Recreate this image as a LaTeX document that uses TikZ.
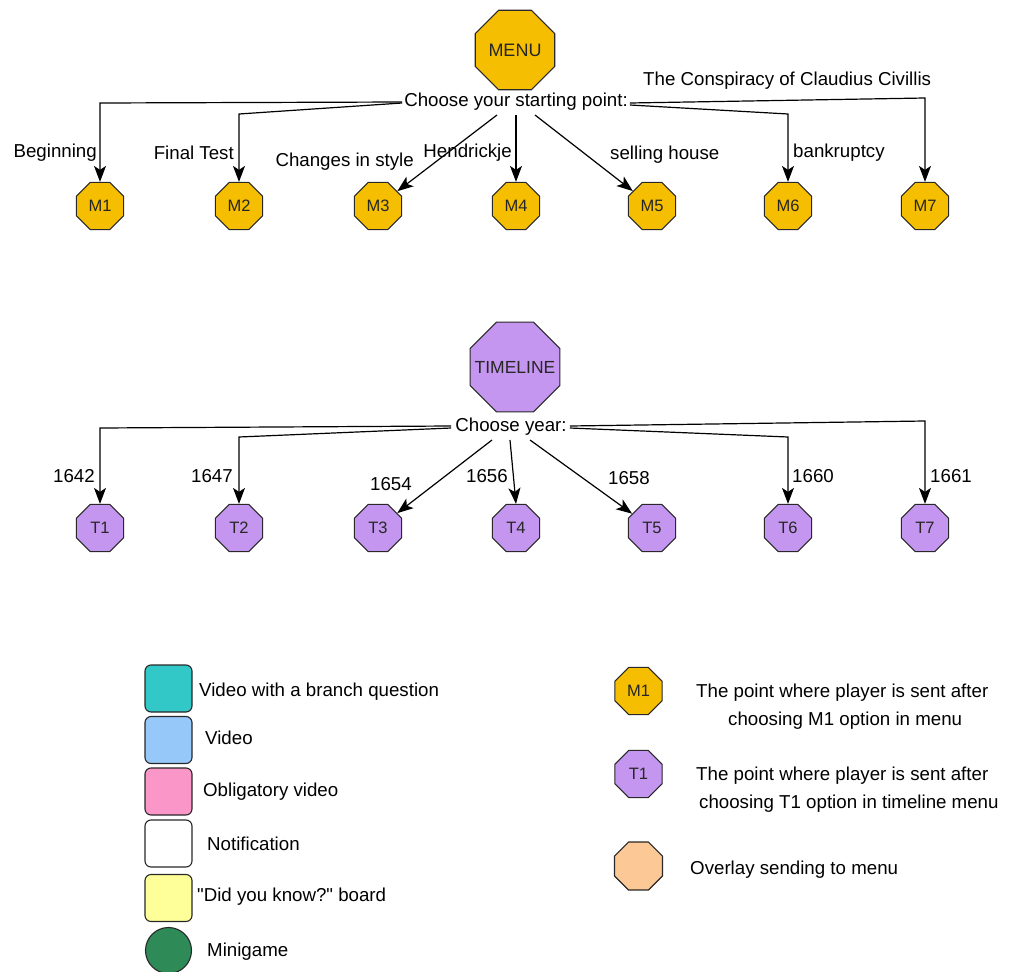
\documentclass[tikz,border=0pt]{standalone}
\usepackage{fontspec}
\setmainfont{Liberation Sans}[Ligatures=TeXOff]
\usetikzlibrary{shapes.geometric,arrows.meta,calc}
\definecolor{gold}{RGB}{245,190,0}
\definecolor{lav}{RGB}{196,150,240}
\definecolor{peach}{RGB}{252,200,150}
\definecolor{tealb}{RGB}{50,200,200}
\definecolor{skyb}{RGB}{150,200,250}
\definecolor{pinkb}{RGB}{250,150,200}
\definecolor{lemon}{RGB}{255,255,153}
\definecolor{mgreen}{RGB}{46,139,87}
\definecolor{edgec}{RGB}{40,40,40}
\begin{document}
\begin{tikzpicture}[x=1pt,y=-1pt,
 txt/.style={font=\fontsize{18.7}{22}\selectfont, inner sep=0pt, text=black},
 oct/.style={regular polygon, regular polygon sides=8, draw=edgec, line width=1.1pt, inner sep=0pt, minimum size=51pt},
 olab/.style={label={[font=\fontsize{16.5}{18}\selectfont, inner sep=0pt, text=black!85]center:#1}},
 moct/.style={oct, fill=gold},
 toct/.style={oct, fill=lav},
 arr/.style={draw=black, line width=1.2pt, -{Stealth[length=16pt,width=12pt,inset=4pt]}},
 lgbox/.style={draw=edgec, line width=1.1pt, rounded corners=6pt, minimum width=47pt, minimum height=47pt, inner sep=0pt},
]
\useasboundingbox (0,0) rectangle (1013,972);

% ---------- MENU ----------
\node[moct, minimum size=86pt, label={[font=\fontsize{18}{20}\selectfont, inner sep=0pt, text=black!85]center:MENU}] (menu) at (515,50) {};
\node[txt] (cm) at (516,102) {Choose your starting point:};

\node[moct, olab=M1] (m1) at (100,206) {};
\node[moct, olab=M2] (m2) at (239,206) {};
\node[moct, olab=M3] (m3) at (378,206) {};
\node[moct, olab=M4] (m4) at (516,206) {};
\node[moct, olab=M5] (m5) at (652,206) {};
\node[moct, olab=M6] (m6) at (788,206) {};
\node[moct, olab=M7] (m7) at (925,206) {};

\draw[arr] ($(cm.west)+(-2,0)$) -- (100,103) -- (m1.north);
\draw[arr] ($(cm.west)+(-2,1)$) -- (239,114) -- (m2.north);
\draw[arr] ($(cm.center)+(-19,13)$) -- (m3);
\draw[arr] ($(cm.center)+(0,13)$) -- (m4.north);
\draw[arr] ($(cm.center)+(19,13)$) -- (m5);
\draw[arr] ($(cm.east)+(2,3)$) -- (788,114) -- (m6.north);
\draw[arr] ($(cm.east)+(2,1)$) -- (925,98) -- (m7.north);

\node[txt, anchor=east] (l1) at (97,153) {Beginning};
\node[txt, anchor=east] (l2) at (234,153) {Final Test};
\node[txt, anchor=east] (l3) at (414,162) {Changes in style};
\node[txt, anchor=east] (l4) at (512,153) {Hendrickje};
\node[txt, anchor=west] (l5) at (610,155) {selling house};
\node[txt, anchor=west] (l6) at (793,153) {bankruptcy};
\node[txt, anchor=west] (l7) at (643,81) {The Conspiracy of Claudius Civillis};

% ---------- TIMELINE ----------
\node[toct, minimum size=97pt, label={[font=\fontsize{17.5}{20}\selectfont, inner sep=0pt, text=black!85]center:TIMELINE}] (tl) at (515,367) {};
\node[txt] (cy) at (511,427) {Choose year:};

\node[toct, olab=T1] (t1) at (100,528) {};
\node[toct, olab=T2] (t2) at (239,528) {};
\node[toct, olab=T3] (t3) at (378,528) {};
\node[toct, olab=T4] (t4) at (516,528) {};
\node[toct, olab=T5] (t5) at (652,528) {};
\node[toct, olab=T6] (t6) at (788,528) {};
\node[toct, olab=T7] (t7) at (925,528) {};

\draw[arr] ($(cy.west)+(-4,-1)$) -- (100,428) -- (t1.north);
\draw[arr] ($(cy.west)+(-4,1)$) -- (239,437) -- (t2.north);
\draw[arr] ($(cy.center)+(-19,13)$) -- (t3);
\draw[arr] ($(cy.center)+(-1,13)$) -- (t4.north);
\draw[arr] ($(cy.center)+(19,13)$) -- (t5);
\draw[arr] ($(cy.east)+(3,1)$) -- (788,437) -- (t6.north);
\draw[arr] ($(cy.east)+(3,-1)$) -- (925,421) -- (t7.north);

\node[txt, anchor=east] (y1) at (95,476) {1642};
\node[txt, anchor=east] (y2) at (233,476) {1647};
\node[txt, anchor=east] (y3) at (412,484) {1654};
\node[txt, anchor=east] (y4) at (508,476) {1656};
\node[txt, anchor=west] (y5) at (608,478) {1658};
\node[txt, anchor=west] (y6) at (792,476) {1660};
\node[txt, anchor=west] (y7) at (930,476) {1661};

% ---------- Legend left ----------
\node[lgbox, fill=tealb] (b1) at (168.5,688.5) {};
\node[lgbox, fill=skyb] (b2) at (168.5,740) {};
\node[lgbox, fill=pinkb] (b3) at (168.5,791.5) {};
\node[lgbox, fill=white] (b4) at (168.5,843.5) {};
\node[lgbox, fill=lemon] (b5) at (168.5,898) {};
\node[circle, draw=edgec, line width=1.1pt, fill=mgreen, minimum size=46pt, inner sep=0pt] (b6) at (168.5,950.5) {};

\node[txt, anchor=west] (d1) at (199,692) {Video with a branch question};
\node[txt, anchor=west] (d2) at (205,738) {Video};
\node[txt, anchor=west] (d3) at (203,792) {Obligatory video};
\node[txt, anchor=west] (d4) at (207,844) {Notification};
\node[txt, anchor=west] (d5) at (197,897) {"Did you know?" board};
\node[txt, anchor=west] (d6) at (207,952) {Minigame};

% ---------- Legend right ----------
\node[moct, olab=M1] (km) at (638.5,691) {};
\node[toct, olab=T1] (kt) at (638.5,774) {};
\node[oct, fill=peach, minimum size=52pt] (ko) at (638.5,866) {};

\node[txt, anchor=west] (e1) at (696,693) {The point where player is sent after};
\node[txt, anchor=west] (e2) at (728,721) {choosing M1 option in menu};
\node[txt, anchor=west] (e3) at (696,776) {The point where player is sent after};
\node[txt, anchor=west] (e4) at (699,804) {choosing T1 option in timeline menu};
\node[txt, anchor=west] (e5) at (690,870) {Overlay sending to menu};
\end{tikzpicture}
\end{document}
